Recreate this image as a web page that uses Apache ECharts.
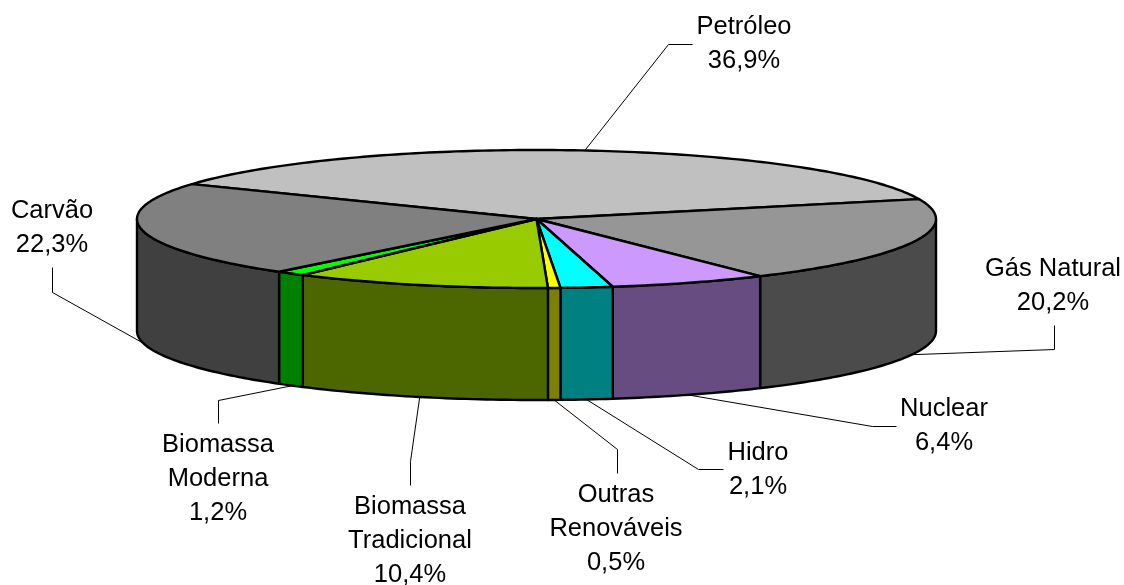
<!DOCTYPE html>
<html>
<head>
<meta charset="utf-8">
<style>html,body{margin:0;padding:0;background:#fff}#chart{width:1124px;height:585px}</style>
<script src="https://cdn.jsdelivr.net/npm/echarts@6/dist/echarts.min.js"></script>
</head>
<body>
<div id="chart"></div>
<script>
const categories = ['Petróleo','Gás Natural','Nuclear','Hidro','Outras\nRenováveis','Biomassa\nTradicional','Biomassa\nModerna','Carvão'];
const values = [36.9,20.2,6.4,2.1,0.5,10.4,1.2,22.3];
const topColors = ['#C0C0C0','#969696','#CC99FF','#00FFFF','#FFFF00','#99CC00','#00FF00','#808080'];
const wallColors = ['#606060','#4B4B4B','#664C80','#008080','#808000','#4C6600','#008000','#404040'];
// label centre (first line) and the elbow of each leader line
const labelX = [744,1053,944,758,616,410,218,52];
const labelY = [27,269,409,453,495,507,445,211];
const elbowA = [[692,44],[1054,325],[896,426],[723,469],[617,473],[410,485],[218,423],[52,267]];
const elbowB = [[668,44],[1054,349],[872,426],[698,469],[617,449],[410,461],[218,400],[52,292]];

const cx = 536.5, cy = 219, rx = 399.5, ry = 69, depth = 112, startAngle = -149.6;
const lineGap = 34;

const total = values.reduce((a,b)=>a+b,0);
const angles = [];
let acc = startAngle;
values.forEach(v=>{
	const next = acc + v/total*360;
	angles.push([acc,next]);
	acc = next;
});

const pt = (deg,dz) => {
	const t = deg*Math.PI/180;
	return [cx+rx*Math.cos(t), cy+ry*Math.sin(t)+(dz||0)];
};
const arc = (a0,a1,dz) => {
	const n = Math.max(2,Math.ceil(Math.abs(a1-a0)));
	const out = [];
	for(let i=0;i<=n;i++) out.push(pt(a0+(a1-a0)*i/n,dz));
	return out;
};
const outline = {stroke:'#000',lineWidth:2.4,lineJoin:'round'};

const renderWall = (params) => {
	const i = params.dataIndex;
	const a0 = Math.max(angles[i][0],0), a1 = Math.min(angles[i][1],180);
	if(a1<=a0) return null;
	return {type:'polygon',shape:{points:arc(a0,a1,0).concat(arc(a1,a0,depth))},
		style:Object.assign({fill:wallColors[i]},outline)};
};
const renderTop = (params) => {
	const i = params.dataIndex;
	return {type:'polygon',shape:{points:[[cx,cy]].concat(arc(angles[i][0],angles[i][1],0))},
		style:Object.assign({fill:topColors[i]},outline)};
};
const renderLabel = (params) => {
	const i = params.dataIndex;
	const mid = (angles[i][0]+angles[i][1])/2;
	const norm = ((mid%360)+360)%360;
	const end = pt(mid, norm<180 ? depth : 0);
	const pct = values[i].toFixed(1).replace('.',',')+'%';
	const lines = categories[i].split('\n').concat(pct);
	const children = [{type:'polyline',shape:{points:[elbowA[i],elbowB[i],end].map(p=>[p[0]+0.5,p[1]+0.5])},
		style:{stroke:'#000',lineWidth:1,fill:null}}];
	lines.forEach((s,k)=>{
		children.push({type:'text',style:{text:s,x:labelX[i],y:labelY[i]+k*lineGap,
			fill:'#000',font:'25.5px "Liberation Sans"',align:'center',verticalAlign:'middle'}});
	});
	return {type:'group',children};
};

const chart = echarts.init(document.getElementById('chart'));
chart.setOption({
	animation:false,
	backgroundColor:'#fff',
	series:[
		{type:'custom',coordinateSystem:'none',silent:true,z:1,data:values,renderItem:renderWall},
		{type:'custom',coordinateSystem:'none',silent:true,z:2,data:values,renderItem:renderTop},
		{type:'custom',coordinateSystem:'none',silent:true,z:3,data:values,renderItem:renderLabel}
	]
});
</script>
</body>
</html>
